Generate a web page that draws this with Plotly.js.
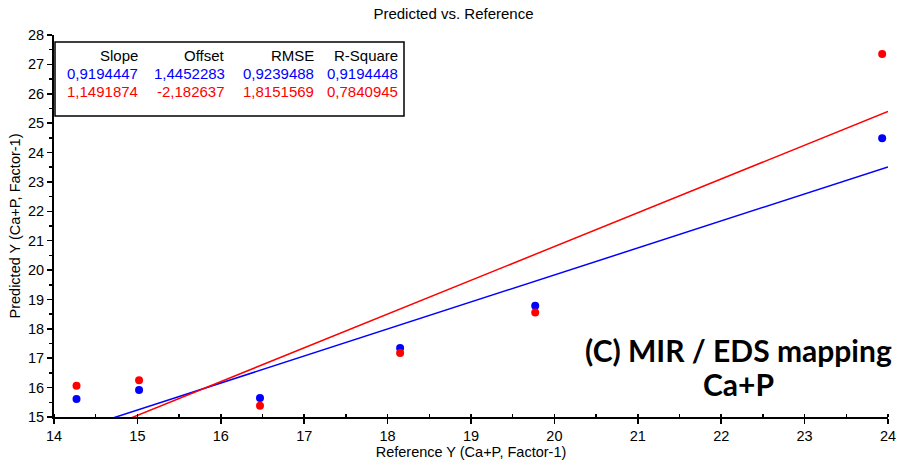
<!DOCTYPE html>
<html>
<head>
<meta charset="utf-8">
<script src="https://cdn.plot.ly/plotly-3.0.1.min.js"></script>
<style>html,body{margin:0;padding:0;background:#fff;}#chart{width:898px;height:461px;}</style>
</head>
<body>
<div id="chart"></div>
<script>
// Data
const referenceY = [14.27, 15.02, 16.47, 18.15, 19.77, 23.93];
const predictedBlue = [15.61, 15.92, 15.65, 17.35, 18.79, 24.49];
const predictedRed = [16.06, 16.25, 15.38, 17.18, 18.56, 27.35];

const statHeaders = ["Slope", "Offset", "RMSE", "R-Square"];
const statsBlue = ["0,9194447", "1,4452283", "0,9239488", "0,9194448"];
const statsRed = ["1,1491874", "-2,182637", "1,8151569", "0,7840945"];
const slopeBlue = 0.9194447, offsetBlue = 1.4452283;
const slopeRed = 1.1491874, offsetRed = -2.182637;
const lineX = [14, 24];

const fontFam = "Liberation Sans, Arial, sans-serif";

const traces = [
  {x: lineX, y: lineX.map(v => slopeBlue * v + offsetBlue), mode: "lines",
   line: {color: "#0000ff", width: 1.5}, hoverinfo: "skip"},
  {x: lineX, y: lineX.map(v => slopeRed * v + offsetRed), mode: "lines",
   line: {color: "#ff0000", width: 1.5}, hoverinfo: "skip"},
  {x: referenceY, y: predictedBlue, mode: "markers",
   marker: {color: "#0000ff", size: 8}, cliponaxis: false},
  {x: referenceY, y: predictedRed, mode: "markers",
   marker: {color: "#ff0000", size: 8}, cliponaxis: false}
];

const annotations = [];
const rows = [
  {vals: statHeaders, color: "#000000", y: 55},
  {vals: statsBlue, color: "#0000ff", y: 73},
  {vals: statsRed, color: "#ff0000", y: 91}
];
const colPx = [140, 227, 316, 400];
rows.forEach(r => {
  r.vals.forEach((t, i) => {
    annotations.push({
      text: t, xref: "paper", yref: "paper",
      x: (colPx[i] - 54) / 834, y: (417 - r.y) / 382,
      xanchor: "right", yanchor: "middle", showarrow: false,
      font: {family: fontFam, size: 15, color: r.color}
    });
  });
});
annotations.push({
  text: "<b>(C) MIR / EDS mapping</b>", xref: "paper", yref: "paper",
  x: (738 - 54) / 834, y: (417 - 350) / 382, xanchor: "center", yanchor: "middle",
  showarrow: false, font: {family: "Lato, sans-serif", size: 30, color: "#000"}
});
annotations.push({
  text: "<b>Ca+P</b>", xref: "paper", yref: "paper",
  x: (738 - 54) / 834, y: (417 - 384) / 382, xanchor: "center", yanchor: "middle",
  showarrow: false, font: {family: "Lato, sans-serif", size: 30, color: "#000"}
});

const layout = {
  width: 898, height: 461,
  margin: {l: 54, r: 10, t: 35, b: 44},
  paper_bgcolor: "#fff", plot_bgcolor: "#fff",
  showlegend: false,
  title: {text: "Predicted vs. Reference", x: 0.505, xanchor: "center", y: 1 - 14 / 461, yanchor: "middle",
          font: {family: fontFam, size: 15, color: "#000"}},
  xaxis: {
    range: [14, 24], dtick: 1, tick0: 14, showgrid: false, zeroline: false,
    showline: true, linecolor: "#000", linewidth: 2,
    ticks: "outside", ticklen: 5, tickwidth: 1.5, tickcolor: "#000",
    minor: {dtick: 0.5, ticks: "inside", ticklen: 3, tickwidth: 1.5, tickcolor: "#000", showgrid: false},
    tickfont: {family: fontFam, size: 14.5, color: "#000"},
    title: {text: "Reference Y (Ca+P, Factor-1)", font: {family: fontFam, size: 14.5, color: "#000"}, standoff: 2}
  },
  yaxis: {
    range: [15, 28], dtick: 1, tick0: 15, showgrid: false, zeroline: false,
    showline: true, linecolor: "#000", linewidth: 2,
    ticks: "outside", ticklen: 5, tickwidth: 1.5, tickcolor: "#000",
    minor: {dtick: 0.5, ticks: "outside", ticklen: 3, tickwidth: 1.5, tickcolor: "#000", showgrid: false},
    tickfont: {family: fontFam, size: 14.5, color: "#000"},
    title: {text: "Predicted Y (Ca+P, Factor-1)", font: {family: fontFam, size: 14.5, color: "#000"}, standoff: 4}
  },
  shapes: [{
    type: "rect", xref: "paper", yref: "paper",
    x0: (55 - 54) / 834, x1: (404 - 54) / 834,
    y0: (417 - 116) / 382, y1: (417 - 42) / 382,
    line: {color: "#000", width: 1.5}, fillcolor: "rgba(255,255,255,0)"
  }],
  annotations: annotations
};
Plotly.newPlot("chart", traces, layout, {displayModeBar: false, staticPlot: true});
</script>
</body>
</html>
